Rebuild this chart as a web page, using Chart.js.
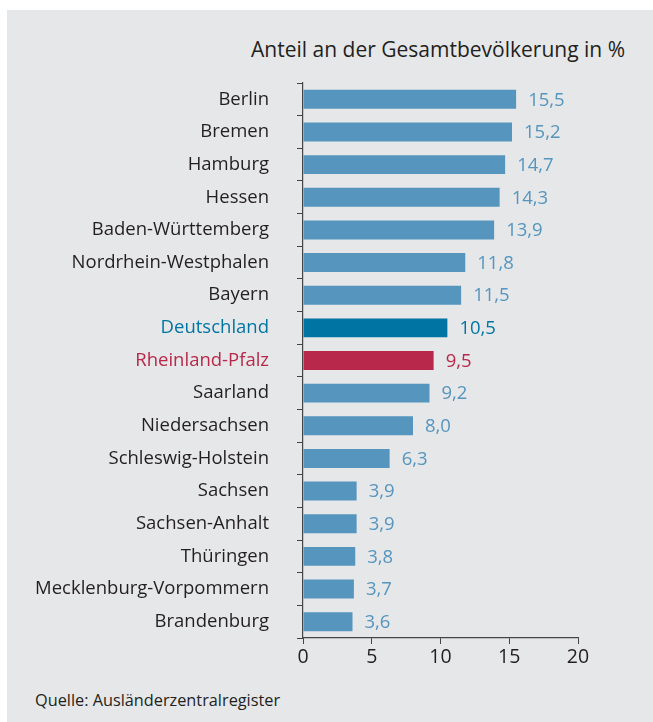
<!DOCTYPE html>
<html>
<head>
<meta charset="utf-8">
<script src="https://cdn.jsdelivr.net/npm/chart.js@4.4.1/dist/chart.umd.min.js"></script>
<style>
  body { margin: 0; background: #fff; font-family: "Open Sans", sans-serif; }
  #panel { position: absolute; left: 7px; top: 10px; width: 646px; height: 712px; background: #e6e7e9; }
  #title { position: absolute; right: 28px; top: 35px; font-size: 21px; color: #231f20; }
  #source { position: absolute; left: 35px; top: 689px; font-size: 16.3px; color: #231f20; }
  canvas { position: absolute; left: 0; top: 0; }
</style>
</head>
<body>
<div id="panel"></div>
<div id="title">Anteil an der Gesamtbevölkerung in %</div>
<div id="source">Quelle: Ausländerzentralregister</div>
<canvas id="chart" width="653" height="722"></canvas>
<script>
const states = ['Berlin', 'Bremen', 'Hamburg', 'Hessen', 'Baden-Württemberg', 'Nordrhein-Westphalen',
  'Bayern', 'Deutschland', 'Rheinland-Pfalz', 'Saarland', 'Niedersachsen', 'Schleswig-Holstein',
  'Sachsen', 'Sachsen-Anhalt', 'Thüringen', 'Mecklenburg-Vorpommern', 'Brandenburg'];
const shares = [15.5, 15.2, 14.7, 14.3, 13.9, 11.8, 11.5, 10.5, 9.5, 9.2, 8.0, 6.3, 3.9, 3.9, 3.8, 3.7, 3.6];
const xTicks = [0, 5, 10, 15, 20];

const baseColor = '#5595be';
const highlight = { 'Deutschland': '#0075a4', 'Rheinland-Pfalz': '#b8284a' };
const textColor = '#231f20';

const colorFor = name => highlight[name] || baseColor;
const labelColorFor = name => highlight[name] || textColor;

// value labels right of each bar
const valueLabels = {
  id: 'valueLabels',
  afterDatasetsDraw(chart) {
    const c = chart.ctx;
    const meta = chart.getDatasetMeta(0);
    c.save();
    c.font = '18.5px "Open Sans"';
    c.textBaseline = 'middle';
    c.textAlign = 'left';
    meta.data.forEach((bar, i) => {
      c.fillStyle = colorFor(states[i]);
      c.fillText(shares[i].toFixed(1).replace('.', ','), bar.x + 12, bar.y + 1);
    });
    c.restore();
  }
};

const ctx = document.getElementById('chart').getContext('2d');
new Chart(ctx, {
  type: 'bar',
  data: {
    labels: states,
    datasets: [{
      data: shares,
      backgroundColor: states.map(colorFor),
      categoryPercentage: 1,
      barPercentage: 0.58
    }]
  },
  options: {
    indexAxis: 'y',
    responsive: false,
    animation: false,
    layout: { padding: { top: 83, right: 75, left: 0, bottom: 0 } },
    plugins: { legend: { display: false }, tooltip: { enabled: false } },
    scales: {
      x: {
        min: 0, max: 20,
        afterBuildTicks: s => { s.ticks = xTicks.map(v => ({ value: v })); },
        afterFit: s => { s.height = 84; },
        border: { color: '#444', width: 1.2 },
        grid: { drawOnChartArea: false, tickLength: 6, color: '#444' },
        ticks: { color: textColor, font: { family: 'Open Sans', size: 19.5 }, padding: 2 }
      },
      y: {
        afterFit: s => { s.width = 303; },
        border: { color: '#444', width: 1.2 },
        grid: { drawOnChartArea: false, tickLength: 6, color: '#444', offset: true },
        ticks: {
          color: ctx => labelColorFor(states[ctx.index]),
          font: { family: 'Open Sans', size: 18.5 },
          padding: 28
        }
      }
    }
  },
  plugins: [valueLabels]
});
</script>
</body>
</html>
